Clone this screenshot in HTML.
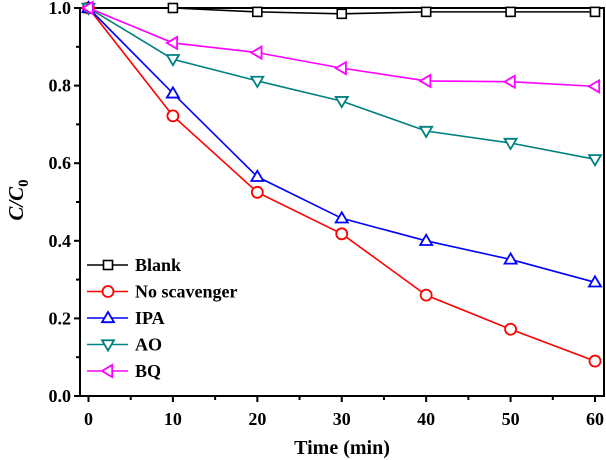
<!DOCTYPE html>
<html><head><meta charset="utf-8"><style>
body{margin:0;background:#fff}
svg{display:block;font-family:"Liberation Serif",serif;font-weight:bold}
</style></head><body>
<svg width="606" height="460">
<g id="axes"></g><g id="series"></g><g id="legend"></g>
</svg>
<script>
const times=[0,10,20,30,40,50,60];
const blank=[1.0,1.0,0.99,0.985,0.99,0.99,0.99];
const noScav=[1.0,0.722,0.525,0.418,0.26,0.172,0.09];
const ipa=[1.0,0.78,0.565,0.458,0.40,0.352,0.293];
const ao=[1.0,0.868,0.812,0.76,0.683,0.652,0.61];
const bq=[1.0,0.91,0.885,0.845,0.812,0.81,0.798];
const xTicks=[0,10,20,30,40,50,60];
const yTicks=[0,0.2,0.4,0.6,0.8,1.0];
const seriesNames=["Blank","No scavenger","IPA","AO","BQ"];
const L=80,R=604,T=8,B=396;
const xs=v=>88.5+(v/60)*(595-88.5);
const ys=v=>B-v*(B-T);
const NS="http://www.w3.org/2000/svg";
function mk(p,t,a){const e=document.createElementNS(NS,t);for(const k in a)e.setAttribute(k,a[k]);p.appendChild(e);return e;}
const ax=document.getElementById('axes');
let fr=mk(ax,'rect',{x:L,y:T,width:R-L,height:B-T,fill:'none',stroke:'#000','stroke-width':2});

for(let v=0;v<=60;v+=5){const x=xs(v);const maj=v%10==0;
 mk(ax,'line',{x1:x,x2:x,y1:B,y2:B+(maj?6:4),stroke:'#000','stroke-width':2});
 if(maj){const t=mk(ax,'text',{x:x,y:B+29,'text-anchor':'middle','font-size':18});t.textContent=v;
 }}
for(let i=0;i<=10;i++){const v=i/10;const y=ys(v);const maj=i%2==0;
 mk(ax,'line',{x1:L,x2:L-(maj?6:4),y1:y,y2:y,stroke:'#000','stroke-width':2});
 if(maj){const t=mk(ax,'text',{x:L-9,y:y+6,'text-anchor':'end','font-size':18});t.textContent=v.toFixed(1);
 }}
let xt=mk(ax,'text',{x:342,y:454,'text-anchor':'middle','font-size':20});xt.textContent='Time (min)';

let yt=mk(ax,'text',{transform:'translate(23,200) rotate(-90)','text-anchor':'middle','font-size':21,'font-style':'italic'});
yt.innerHTML='C/C<tspan font-style="normal" font-size="15" dy="5">0</tspan>';

function marker(g,type,x,y,c){const s=6;
 if(type=='sq')return mk(g,'rect',{x:x-4.5,y:y-4.5,width:9,height:9,fill:'#fff',stroke:c,'stroke-width':1.6});
 if(type=='c')return mk(g,'circle',{cx:x,cy:y,r:5.5,fill:'#fff',stroke:c,'stroke-width':1.8});
 let p;
 if(type=='up')p=[[x,y-s],[x-s,y+s*0.7],[x+s,y+s*0.7]];
 if(type=='down')p=[[x,y+s],[x-s,y-s*0.7],[x+s,y-s*0.7]];
 if(type=='left')p=[[x-s,y],[x+s*0.7,y-s],[x+s*0.7,y+s]];
 return mk(g,'polygon',{points:p.map(q=>q.join(',')).join(' '),fill:'#fff',stroke:c,'stroke-width':1.8});}
const sdata=[[blank,'#000','sq'],[noScav,'#f00','c'],[ipa,'#00f','up'],[ao,'#008080','down'],[bq,'#f0f','left']];
const sg=document.getElementById('series');
sdata.forEach((s,i)=>{const g=mk(sg,'g',{});
 
 
 mk(g,'polyline',{points:times.map((t,j)=>xs(t)+','+ys(s[0][j])).join(' '),fill:'none',stroke:s[1],'stroke-width':1.6});
 times.forEach((t,j)=>{const m=marker(g,s[2],xs(t),ys(s[0][j]),s[1]);
  });
});
const lg=document.getElementById('legend');
sdata.forEach((s,i)=>{const y=265+i*26.5;const g=mk(lg,'g',{});
 
 mk(g,'line',{x1:87,x2:128,y1:y,y2:y,stroke:s[1],'stroke-width':1.6});
 marker(g,s[2],108,y,s[1]);
 const t=mk(g,'text',{x:135,y:y+6,'font-size':18});t.textContent=seriesNames[i];});
</script>
</body></html>
